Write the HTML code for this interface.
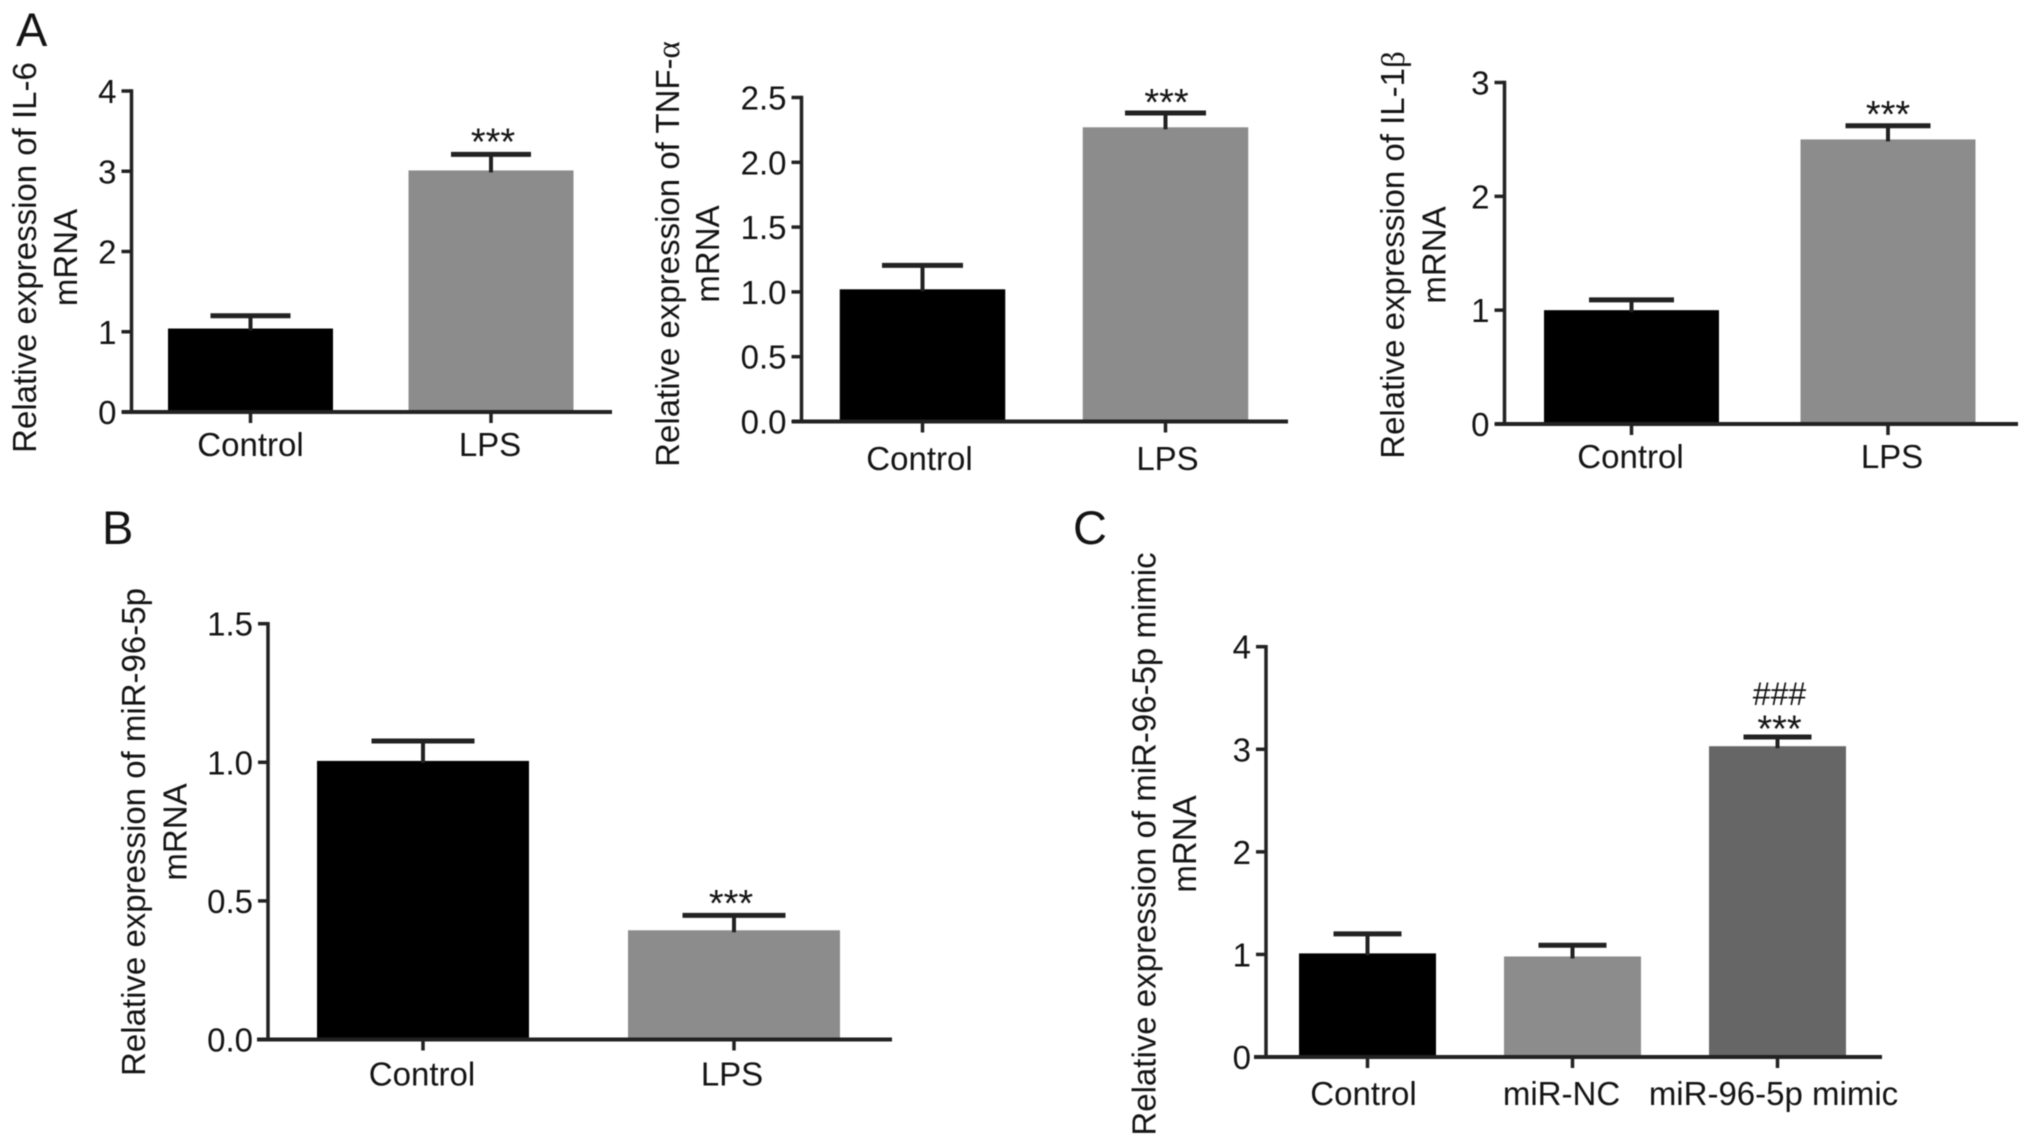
<!DOCTYPE html>
<html lang="en">
<head>
<meta charset="utf-8">
<title>Relative expression bar charts</title>
<style>
  html, body { margin: 0; padding: 0; background: #fff; }
  body { width: 2032px; height: 1147px; overflow: hidden; }
  svg { display: block; filter: blur(0.6px); }
  text { font-family: "Liberation Sans", Arial, sans-serif; fill: #141414; }
  .title { font-size: 33px; text-anchor: middle; }
  .letter { font-size: 47px; }
  .tick { font-size: 33px; }
  .greek { font-family: "Liberation Serif", serif; }
</style>
</head>
<body>
<svg id="figure" xmlns="http://www.w3.org/2000/svg" width="2032" height="1147" viewBox="0 0 2032 1147">
  <rect x="0" y="0" width="2032" height="1147" fill="#ffffff"/>

  <text class="letter" x="16" y="46">A</text>
  <text class="letter" x="102" y="544">B</text>
  <text class="letter" x="1073" y="544">C</text>

  <text class="title" transform="translate(36 257.5) rotate(-90)">Relative expression of IL-6</text>
  <text class="title" transform="translate(77 257.5) rotate(-90)">mRNA</text>

  <text class="title" transform="translate(679 254) rotate(-90)">Relative expression of TNF-<tspan class="greek">α</tspan></text>
  <text class="title" transform="translate(719 254) rotate(-90)">mRNA</text>

  <text class="title" transform="translate(1404 255) rotate(-90)">Relative expression of IL-1<tspan class="greek">β</tspan></text>
  <text class="title" transform="translate(1445.5 255) rotate(-90)">mRNA</text>

  <text class="title" transform="translate(145 832) rotate(-90)">Relative expression of miR-96-5p</text>
  <text class="title" transform="translate(186.5 832) rotate(-90)">mRNA</text>

  <text class="title" transform="translate(1155.5 844) rotate(-90)">Relative expression of miR-96-5p mimic</text>
  <text class="title" transform="translate(1196 844) rotate(-90)">mRNA</text>
</svg>

<script>
// ---- Panel A: IL-6 ----
const il6Categories = ['Control', 'LPS'];
const il6Values = [1.04, 3.01];
const il6Upper = [1.2, 3.21];
const il6Marks = ['', '***'];
const il6Ticks = ['0', '1', '2', '3', '4'];

// ---- Panel A: TNF-alpha ----
const tnfCategories = ['Control', 'LPS'];
const tnfValues = [1.02, 2.27];
const tnfUpper = [1.205, 2.38];
const tnfMarks = ['', '***'];
const tnfTicks = ['0.0', '0.5', '1.0', '1.5', '2.0', '2.5'];

// ---- Panel A: IL-1 beta ----
const il1bCategories = ['Control', 'LPS'];
const il1bValues = [1.0, 2.5];
const il1bUpper = [1.09, 2.62];
const il1bMarks = ['', '***'];
const il1bTicks = ['0', '1', '2', '3'];

// ---- Panel B: miR-96-5p ----
const mir96Categories = ['Control', 'LPS'];
const mir96Values = [1.005, 0.394];
const mir96Upper = [1.077, 0.448];
const mir96Marks = ['', '***'];
const mir96Ticks = ['0.0', '0.5', '1.0', '1.5'];

// ---- Panel C: miR-96-5p mimic ----
const mimicCategories = ['Control', 'miR-NC', 'miR-96-5p mimic'];
const mimicValues = [1.01, 0.98, 3.03];
const mimicUpper = [1.2, 1.09, 3.12];
const mimicMarks = ['', '', '***'];
const mimicHashMarks = ['', '', '###'];
const mimicTicks = ['0', '1', '2', '3', '4'];

const barFills = ['#000000', '#8c8c8c', '#666666'];
const axisColor = '#222222';
const NS = 'http://www.w3.org/2000/svg';
const figure = document.getElementById('figure');

function make(tag, geometry) {
  const el = document.createElementNS(NS, tag);
  for (const key in geometry) {
    el.setAttribute(key, geometry[key]);
  }
  figure.appendChild(el);
  return el;
}

function line(x1, y1, x2, y2, width) {
  return make('line', { x1: x1, y1: y1, x2: x2, y2: y2, stroke: axisColor, 'stroke-width': width });
}

function label(x, y, anchor, size, content) {
  const el = make('text', { x: x, y: y, 'text-anchor': anchor, 'font-size': size });
  el.textContent = content;
  return el;
}

function drawPanel(panel, frame) {
  const maxTick = Number(panel.ticks[panel.ticks.length - 1]);
  const yScale = function (v) {
    return frame.bottom - (v / maxTick) * (frame.bottom - frame.top);
  };
  const xScale = function (i) {
    return frame.firstCenter + i * frame.step;
  };

  panel.categories.forEach(function (category, i) {
    const cx = xScale(i);
    const top = yScale(panel.values[i]);
    const capY = yScale(panel.upper[i]);

    const bar = make('rect', {
      x: cx - frame.barWidth / 2,
      y: top,
      width: frame.barWidth,
      height: frame.bottom - top,
      fill: barFills[i]
    });
    
    

    const stem = line(cx, top + 2, cx, capY, 4);
    
    

    const cap = line(cx - frame.capWidth / 2, capY, cx + frame.capWidth / 2, capY, 5);
    
    

    if (panel.marks[i]) {
      const stars = label(cx + frame.starShift, capY + frame.starGap, 'middle', 38, panel.marks[i]);
      
      
    }
    if (panel.hashMarks && panel.hashMarks[i]) {
      const hashes = label(cx + frame.starShift, capY - 32, 'middle', 32, panel.hashMarks[i]);
      
      
    }

    const xTick = line(cx, frame.bottom, cx, frame.bottom + 11, 3.5);
    
    

    const xLabel = label(cx + frame.labelShift[i], frame.bottom + frame.labelGap, 'middle', 33, category);
    
    
  });

  panel.ticks.forEach(function (tick, i) {
    const ty = yScale(Number(tick));
    const yTick = line(frame.axisX - 10, ty, frame.axisX, ty, 3.5);
    
    

    const yLabel = label(frame.axisX - 15, ty + 12, 'end', 33, tick);
    
    
  });

  const yAxis = line(frame.axisX, frame.top - 1.75, frame.axisX, frame.bottom + 1.75, 3.5);
  
  

  const xAxis = line(frame.axisStart, frame.bottom, frame.axisEnd, frame.bottom, 4);
  
  
}

drawPanel(
  { name: 'il6', categories: il6Categories, values: il6Values, upper: il6Upper, marks: il6Marks, ticks: il6Ticks },
  { axisX: 131.5, axisStart: 122, axisEnd: 612, top: 91, bottom: 412, firstCenter: 250.5, step: 240.5, barWidth: 165, capWidth: 80, labelGap: 44, labelShift: [0, -1], starGap: 0, starShift: 2 }
);
drawPanel(
  { name: 'tnf', categories: tnfCategories, values: tnfValues, upper: tnfUpper, marks: tnfMarks, ticks: tnfTicks },
  { axisX: 801.5, axisStart: 792, axisEnd: 1288, top: 97.5, bottom: 421.5, firstCenter: 922.5, step: 243, barWidth: 165.5, capWidth: 81, labelGap: 48.5, labelShift: [-3, 2], starGap: 2, starShift: 1 }
);
drawPanel(
  { name: 'il1b', categories: il1bCategories, values: il1bValues, upper: il1bUpper, marks: il1bMarks, ticks: il1bTicks },
  { axisX: 1504.5, axisStart: 1495, axisEnd: 2018, top: 82.5, bottom: 424, firstCenter: 1631.5, step: 256.5, barWidth: 175, capWidth: 85, labelGap: 44, labelShift: [-1, 4], starGap: 1, starShift: 0 }
);
drawPanel(
  { name: 'mir96', categories: mir96Categories, values: mir96Values, upper: mir96Upper, marks: mir96Marks, ticks: mir96Ticks },
  { axisX: 268, axisStart: 257, axisEnd: 892, top: 623.7, bottom: 1039.5, firstCenter: 423, step: 311, barWidth: 212, capWidth: 103, labelGap: 46, labelShift: [-1, -2], starGap: 0.5, starShift: -3 }
);
drawPanel(
  { name: 'mimic', categories: mimicCategories, values: mimicValues, upper: mimicUpper, marks: mimicMarks, hashMarks: mimicHashMarks, ticks: mimicTicks },
  { axisX: 1266, axisStart: 1254, axisEnd: 1882, top: 646.7, bottom: 1057, firstCenter: 1367.5, step: 205, barWidth: 137, capWidth: 68, labelGap: 48, labelShift: [-4, -11, -4], starGap: 4.5, starShift: 2 }
);
</script>
</body>
</html>
